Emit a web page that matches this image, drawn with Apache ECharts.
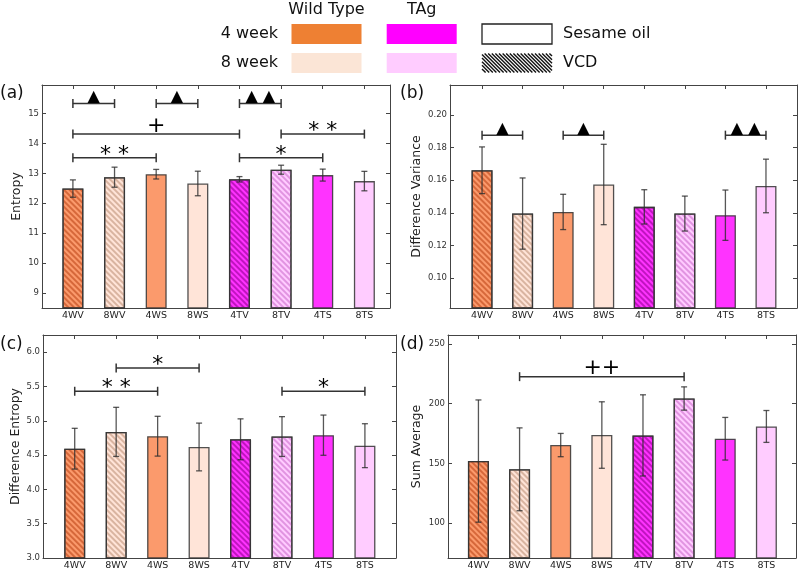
<!DOCTYPE html>
<html><head><meta charset="utf-8">
<script src="https://cdn.jsdelivr.net/npm/echarts@6/dist/echarts.min.js"></script>
<style>html,body{margin:0;padding:0;background:#fff}#c{width:800px;height:572px}</style>
</head><body><div id="c"></div>
<script>
// ---------------- data ----------------
const categories = ['4WV', '8WV', '4WS', '8WS', '4TV', '8TV', '4TS', '8TS'];

const entropyMean = [12.49, 12.87, 12.97, 12.66, 12.80, 13.12, 12.94, 12.74];
const entropyErr  = [0.29, 0.335, 0.16, 0.41, 0.09, 0.15, 0.20, 0.325];

const diffVarMean = [0.1661, 0.1396, 0.1406, 0.1574, 0.1437, 0.1396, 0.1386, 0.1565];
const diffVarErr  = [0.0143, 0.0218, 0.0108, 0.0246, 0.0105, 0.0107, 0.0154, 0.0164];

const diffEntMean = [4.593, 4.838, 4.775, 4.618, 4.730, 4.770, 4.790, 4.637];
const diffEntErr  = [0.297, 0.358, 0.290, 0.348, 0.298, 0.290, 0.293, 0.320];

const sumAvgMean = [151.9, 145.0, 165.3, 173.7, 173.4, 204.3, 170.6, 180.9];
const sumAvgErr  = [51.2, 34.7, 9.75, 27.85, 34.0, 9.75, 17.85, 13.35];

const entropyTicks = [9, 10, 11, 12, 13, 14, 15];
const diffVarTicks = [0.10, 0.12, 0.14, 0.16, 0.18, 0.20];
const diffEntTicks = [3.0, 3.5, 4.0, 4.5, 5.0, 5.5, 6.0];
const sumAvgTicks  = [100, 150, 200, 250];

// significance brackets: [from category, to category, level, mark]
const entropyBrackets = [[0, 1, 15.33, '▲'], [2, 3, 15.33, '▲'], [4, 5, 15.33, '▲ ▲'],
                         [0, 4, 14.31, '+'], [5, 7, 14.31, '* *'],
                         [0, 2, 13.52, '* *'], [4, 6, 13.52, '*']];
const diffVarBrackets = [[0, 1, 0.1876, '▲'], [2, 3, 0.1876, '▲'], [6, 7, 0.1876, '▲ ▲']];
const diffEntBrackets = [[1, 3, 5.77, '*'], [0, 2, 5.43, '* *'], [5, 7, 5.43, '*']];
const sumAvgBrackets  = [[1, 5, 222.6, '++']];

const legendCols = ['Wild Type', 'TAg'];
const legendRows = ['4 week', '8 week'];
const treatmentLabels = ['Sesame oil', 'VCD'];

// ---------------- styles ----------------
const FONT = 'DejaVu Sans';
const fillColors  = ['#FB9A6C', '#FFE4D8', '#FB9A6C', '#FFE4D8', '#FF33FF', '#FFCCFF', '#FF33FF', '#FFCCFF'];
const hatchColors = ['rgba(190,70,25,0.6)', 'rgba(185,140,115,0.55)', null, null,
                     'rgba(150,0,150,0.6)', 'rgba(205,110,205,0.6)', null, null];
const legendFill = [['#EE8033', '#FF00FF'], ['#FBE5D6', '#FFCCFF']];
const frameColor = '#444';
const errColor = 'rgba(45,45,45,0.8)';

const panels = [
  {grid: {left: 42, top: 85, width: 348, height: 223}, xMin: -0.742, xMax: 7.615,
   yMin: 8.5, yMax: 15.95, step: 1, dec: 0, ticks: entropyTicks, name: 'Entropy', nameGap: 19,
   letter: '(a)', letterXY: [0, 94], mean: entropyMean, err: entropyErr, brackets: entropyBrackets},
  {grid: {left: 450, top: 85, width: 347, height: 223}, xMin: -0.79, xMax: 7.765,
   yMin: 0.0818, yMax: 0.2183, step: 0.02, dec: 2, ticks: diffVarTicks, name: 'Difference Variance', nameGap: 27,
   letter: '(b)', letterXY: [400, 94], mean: diffVarMean, err: diffVarErr, brackets: diffVarBrackets},
  {grid: {left: 43, top: 335, width: 353, height: 223}, xMin: -0.765, xMax: 7.75,
   yMin: 3.0, yMax: 6.25, step: 0.5, dec: 1, ticks: diffEntTicks, name: 'Difference Entropy', nameGap: 20,
   letter: '(c)', letterXY: [0, 345], mean: diffEntMean, err: diffEntErr, brackets: diffEntBrackets},
  {grid: {left: 448, top: 335, width: 348, height: 223}, xMin: -0.74, xMax: 7.72,
   yMin: 70.7, yMax: 257.5, step: 50, dec: 0, ticks: sumAvgTicks, name: 'Sum Average', nameGap: 25,
   letter: '(d)', letterXY: [400, 345], mean: sumAvgMean, err: sumAvgErr, brackets: sumAvgBrackets}
];

function markOffset(t) {
  if (t.indexOf('*') >= 0) return 2.5;
  if (t.indexOf('+') >= 0) return 8;
  return 6.5;
}
function markSize(t) {
  if (t.indexOf('*') >= 0) return 22;
  if (t.indexOf('+') >= 0) return 22;
  return 16;
}

const grids = [], xAxes = [], yAxes = [], series = [], graphics = [];
const catIdx = categories.map((_, i) => i);

panels.forEach((p, k) => {
  grids.push(Object.assign({show: false}, p.grid));
  const xFmt = v => { const i = Math.round(v); return (Math.abs(v - i) < 1e-6 && i >= 0 && i < categories.length) ? categories[i] : ''; };
  const yFmt = v => p.ticks.some(t => Math.abs(t - v) < p.step * 1e-3) ? v.toFixed(p.dec) : '';
  ['bottom', 'top'].forEach(pos => {
    xAxes.push({
      gridIndex: k, type: 'value', position: pos, min: p.xMin, max: p.xMax,
      minInterval: 1, maxInterval: 1,
      axisLine: {show: true, onZero: false, lineStyle: {color: frameColor, width: 1}},
      axisTick: {show: true, inside: true, length: 4, lineStyle: {color: frameColor}, customValues: catIdx},
      axisLabel: {show: pos === 'bottom', formatter: xFmt, customValues: catIdx, fontFamily: FONT, fontSize: 9.5, color: '#222', margin: 3},
      splitLine: {show: false}
    });
  });
  ['left', 'right'].forEach(pos => {
    yAxes.push({
      gridIndex: k, type: 'value', position: pos, min: p.yMin, max: p.yMax,
      minInterval: p.step, maxInterval: p.step,
      name: pos === 'left' ? p.name : '', nameLocation: 'middle', nameGap: p.nameGap,
      nameTextStyle: {fontFamily: FONT, fontSize: 12.5, color: '#222'},
      axisLine: {show: true, onZero: false, lineStyle: {color: frameColor, width: 1}},
      axisTick: {show: true, inside: true, length: 4, lineStyle: {color: frameColor}, customValues: p.ticks},
      axisLabel: {show: pos === 'left', formatter: yFmt, customValues: p.ticks, fontFamily: FONT, fontSize: 8.5, color: '#333', margin: 3},
      splitLine: {show: false}
    });
  });
  const xi = 2 * k, yi = 2 * k;
  series.push({
    type: 'bar', xAxisIndex: xi, yAxisIndex: yi, barWidth: 21, silent: true, clip: true,
    data: p.mean.map((m, i) => {
      const st = {color: fillColors[i], borderColor: 'rgba(50,50,50,0.85)', borderWidth: 1.3};
      if (hatchColors[i]) st.decal = {symbol: 'rect', symbolSize: 1, color: hatchColors[i], dashArrayX: [1, 0], dashArrayY: [1.2, 2.0], rotation: Math.PI / 4};
      return {value: [i, m], itemStyle: st};
    })
  });
  series.push({
    type: 'custom', xAxisIndex: xi, yAxisIndex: yi, z: 5, silent: true,
    data: p.mean.map((m, i) => [i, m, p.err[i]]),
    encode: {x: 0, y: 1},
    renderItem: (params, api) => {
      const x = api.value(0), m = api.value(1), e = api.value(2);
      const a = api.coord([x, m + e]), b = api.coord([x, m - e]);
      const cw = 3, ls = {stroke: errColor, lineWidth: 1.3};
      return {type: 'group', children: [
        {type: 'line', shape: {x1: a[0], y1: a[1], x2: b[0], y2: b[1]}, style: ls},
        {type: 'line', shape: {x1: a[0] - cw, y1: a[1], x2: a[0] + cw, y2: a[1]}, style: ls},
        {type: 'line', shape: {x1: b[0] - cw, y1: b[1], x2: b[0] + cw, y2: b[1]}, style: ls}
      ]};
    }
  });
  series.push({
    type: 'custom', xAxisIndex: xi, yAxisIndex: yi, z: 6, silent: true,
    data: p.brackets.map(b => [b[0], b[1], b[2]]),
    encode: {x: [0, 1], y: 2},
    renderItem: (params, api) => {
      const b = p.brackets[params.dataIndex];
      const a = api.coord([api.value(0), api.value(2)]), c = api.coord([api.value(1), api.value(2)]);
      const y = a[1], h = 4.5, ls = {stroke: '#333', lineWidth: 1.5};
      return {type: 'group', children: [
        {type: 'line', shape: {x1: a[0], y1: y, x2: c[0], y2: y}, style: ls},
        {type: 'line', shape: {x1: a[0], y1: y - h, x2: a[0], y2: y + h}, style: ls},
        {type: 'line', shape: {x1: c[0], y1: y - h, x2: c[0], y2: y + h}, style: ls},
        {type: 'text', x: (a[0] + c[0]) / 2, y: y - markOffset(b[3]),
         style: {text: b[3], fontFamily: FONT, fontSize: markSize(b[3]), fill: '#000', align: 'center', verticalAlign: 'middle'}}
      ]};
    }
  });
  graphics.push({type: 'text', x: p.letterXY[0], y: p.letterXY[1],
    style: {text: p.letter, fontFamily: FONT, fontSize: 17, fill: '#111', align: 'left', verticalAlign: 'middle'}});
});

// ---------------- legend (drawn as graphics) ----------------
const colX = [326.5, 421.7];
legendCols.forEach((t, j) => graphics.push({type: 'text', x: colX[j], y: 10,
  style: {text: t, fontFamily: FONT, fontSize: 16, fill: '#111', align: 'center', verticalAlign: 'middle'}}));
const rowY = [34, 63];
legendRows.forEach((t, r) => {
  graphics.push({type: 'text', x: 278, y: rowY[r],
    style: {text: t, fontFamily: FONT, fontSize: 16, fill: '#111', align: 'right', verticalAlign: 'middle'}});
  legendFill[r].forEach((c, j) => graphics.push({type: 'rect',
    shape: {x: colX[j] - 35, y: rowY[r] - 10, width: 70, height: 20}, style: {fill: c}}));
});
treatmentLabels.forEach((t, r) => graphics.push({type: 'text', x: 563, y: rowY[r],
  style: {text: t, fontFamily: FONT, fontSize: 16, fill: '#111', align: 'left', verticalAlign: 'middle'}}));
graphics.push({type: 'rect', shape: {x: 482, y: 24, width: 70, height: 20},
  style: {fill: '#fff', stroke: '#222', lineWidth: 1.3}});
(function () {
  const x0 = 482, y0 = 53.5, w = 70, h = 19;
  for (let k = -h; k < w; k += 3.6) {
    const t0 = Math.max(0, -k / h), t1 = Math.min(1, (w - k) / h);
    if (t0 >= t1) continue;
    graphics.push({type: 'line', shape: {x1: x0 + k + h * t0, y1: y0 + h * t0, x2: x0 + k + h * t1, y2: y0 + h * t1},
      style: {stroke: '#111', lineWidth: 1.4}});
  }
})();

const chart = echarts.init(document.getElementById('c'), null, {renderer: 'canvas'});
chart.setOption({
  animation: false,
  grid: grids, xAxis: xAxes, yAxis: yAxes, series: series, graphic: graphics
});
</script></body></html>
